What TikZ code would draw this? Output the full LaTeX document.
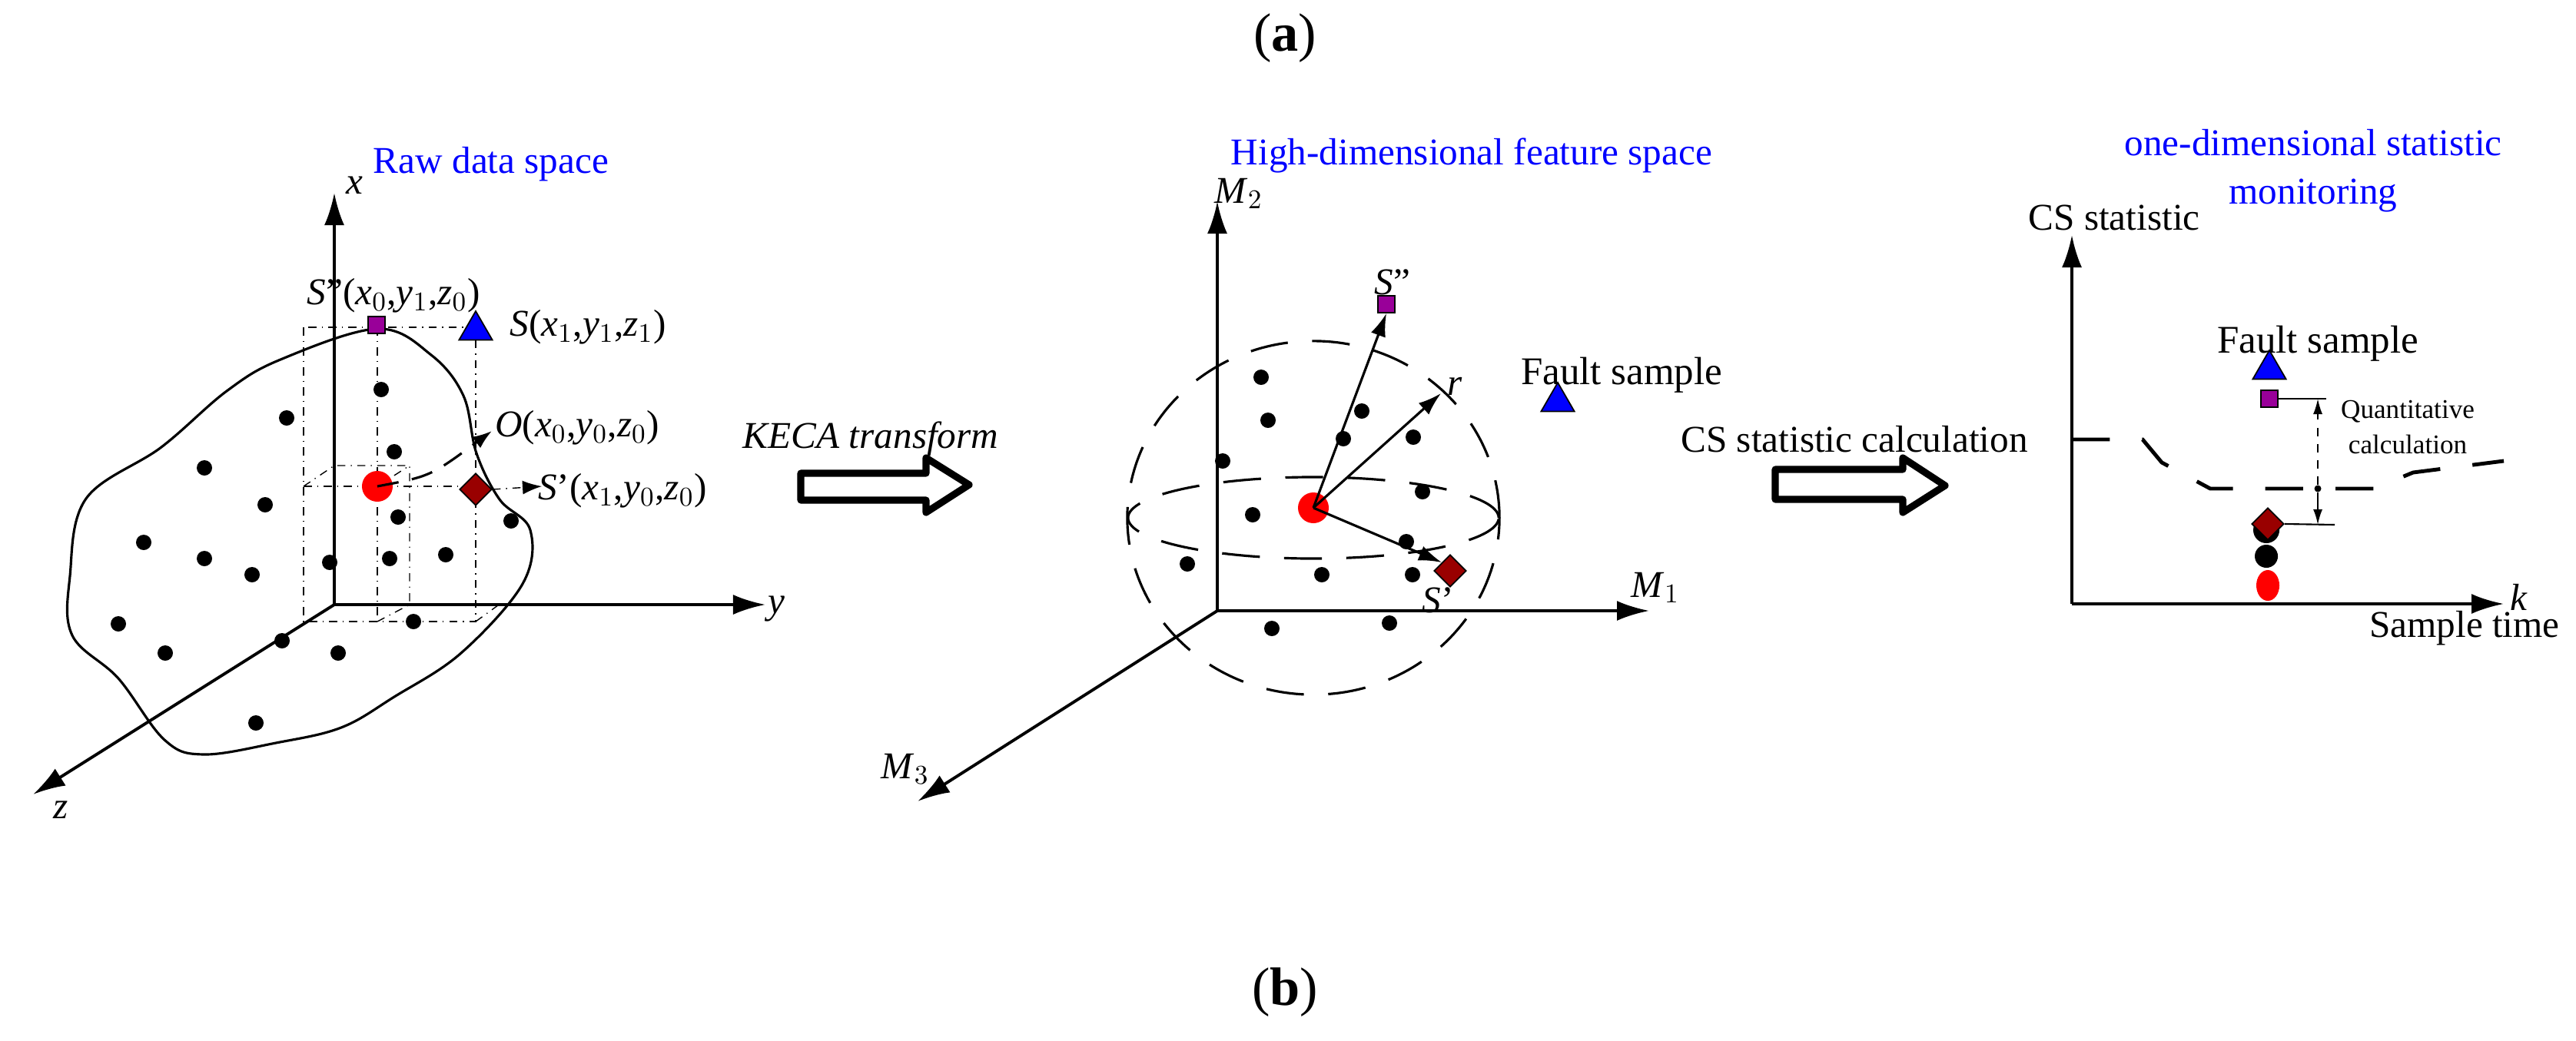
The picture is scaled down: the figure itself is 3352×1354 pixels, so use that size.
\documentclass[tikz,border=0pt]{standalone}
\usepackage{fontspec}
\setmainfont{Liberation Serif}
\usetikzlibrary{arrows.meta,shapes.geometric}
\definecolor{sqc}{HTML}{990099}
\definecolor{dmc}{HTML}{990000}
\begin{document}
\begin{tikzpicture}[x=0.01cm,y=-0.01cm,
  lbl/.style={font=\fontsize{14}{16}\selectfont,inner sep=0pt},
  big/.style={font=\fontsize{14.5}{17}\selectfont,inner sep=0pt},
  ttl/.style={lbl,text=blue},
  axis/.style={line width=1.1pt,-{Latex[length=0.42cm,width=0.26cm]}},
  vec/.style={line width=0.9pt,-{Latex[length=0.3cm,width=0.2cm]}},
  dot/.style={circle,fill=black,inner sep=0pt,minimum size=0.2cm},
  reddot/.style={ellipse,fill=red,inner sep=0pt,minimum width=0.4cm,minimum height=0.4cm},
  sq/.style={rectangle,draw=black,fill=sqc,inner sep=0pt,minimum size=0.22cm,line width=0.5pt},
  dm/.style={diamond,draw=black,fill=dmc,inner sep=0pt,minimum size=0.42cm,line width=0.5pt},
  tri/.style={regular polygon,regular polygon sides=3,draw=black,fill=blue,inner sep=0pt,minimum size=0.5cm,line width=0.5pt},
  dd/.style={line width=0.4pt,dash dot},
  fat/.style={line width=2.6pt,line join=round}]
\useasboundingbox (0,0) rectangle (3352,1354);
\node[font=\fontsize{20}{24}\selectfont] (a) at (1672,50) {(\textbf{a})};
\node[font=\fontsize{20}{24}\selectfont] (b) at (1672,1292) {(\textbf{b})};
% ---------- left panel ----------
\coordinate (O1) at (435,787);
\coordinate (X1) at (435,251);
\coordinate (Y1) at (996,787);
\coordinate (Z1) at (43,1034);
\draw[line width=0.9pt] plot[smooth cycle,tension=0.6] coordinates {(491,428) (561,462) (603,515) (620,590) (650,650) (690,690) (680,760) (600,850) (513,907) (444,947) (359,967) (265,982) (214,963) (154,883) (94,827) (91,750) (112,649) (210,582) (295,509) (365,468)};
\draw[dd] (395,426) rectangle (619,809);
\draw[dd] (491,426) -- (491,809);
\draw[dd] (395,633) -- (619,633);
\draw[dd] (395,633) -- (435,606) -- (533,606) -- (533,787);
\draw[dd] (491,633) -- (533,606);
\draw[dd] (491,809) -- (533,787);
\draw[dd] (619,809) -- (652,785);
\draw[axis] (O1) -- (X1);
\draw[axis] (O1) -- (Y1);
\draw[axis] (O1) -- (Z1);
\foreach \p in {(496,507),(373,544),(513,588),(266,609),(345,657),(518,673),(665,678),(187,706),(266,727),(429,732),(507,727),(580,722),(328,748),(154,812),(538,809),(215,850),(367,834),(440,850),(333,941)}
  \node[dot] at \p {};
\node[reddot] (c1) at (491,633) {};
\node[sq] (s2a) at (490,423) {};
\node[tri] (t1) at (619,430) {};
\node[dm] (d1) at (619,637) {};
\coordinate (oe) at (640,561);
\coordinate (se) at (705,633);
\draw[line width=0.9pt,dash pattern=on 8pt off 5pt,-{Latex[length=0.25cm,width=0.18cm]}] (c1.center) .. controls (560,620) .. (oe);
\draw[dd,-{Latex[length=0.25cm,width=0.18cm]}] (d1.east) -- (se);
\node[ttl] (rt) at (639,214) {Raw data space};
\node[lbl] (xl) at (461,241) {\textit{x}};
\node[lbl] (yl) at (1010,792) {\textit{y}};
\node[lbl] (zl) at (79,1054) {\textit{z}};
\node[lbl] (l2) at (512,385) {\textit{S}''(\textit{x}$_0$,\textit{y}$_1$,\textit{z}$_0$)};
\node[lbl] (l0) at (765,426) {\textit{S}(\textit{x}$_1$,\textit{y}$_1$,\textit{z}$_1$)};
\node[lbl] (lo) at (751,557) {\textit{O}(\textit{x}$_0$,\textit{y}$_0$,\textit{z}$_0$)};
\node[lbl] (l1) at (810,639) {\textit{S}'(\textit{x}$_1$,\textit{y}$_0$,\textit{z}$_0$)};
% ---------- KECA arrow ----------
\node[lbl] (keca) at (1133,571) {\textit{KECA transform}};
\draw[fat] (1042,616) -- (1205,616) -- (1205,596) -- (1261,631) -- (1205,667) -- (1205,651) -- (1042,651) -- cycle;
% ---------- middle panel ----------
\coordinate (O2) at (1584,795);
\coordinate (M2) at (1584,262);
\coordinate (M1) at (2146,795);
\coordinate (M3) at (1194,1043);
\draw[line width=0.9pt,dash pattern=on 14pt off 9pt] (1709,674) ellipse [x radius=2.42cm,y radius=2.3cm];
\draw[line width=0.9pt,dash pattern=on 14pt off 9pt] (1709,674) ellipse [x radius=2.41cm,y radius=0.53cm];
\draw[axis] (O2) -- (M2);
\draw[axis] (O2) -- (M1);
\draw[axis] (O2) -- (M3);
\foreach \p in {(1641,491),(1650,547),(1772,535),(1748,571),(1839,569),(1591,600),(1851,640),(1630,670),(1830,705),(1545,734),(1720,748),(1838,748),(1655,818),(1808,811)}
  \node[dot] at \p {};
\node[reddot] (c2) at (1709,661) {};
\node[sq] (s2b) at (1804,396) {};
\node[dm] (d2) at (1887,743) {};
\node[tri] (t2) at (2027,523) {};
\coordinate (re) at (1875,512);
\draw[vec] (c2.center) -- (s2b.south);
\draw[vec] (c2.center) -- (re);
\draw[vec] (c2.center) -- (d2.north west);
\node[ttl] (ht) at (1915,202) {High-dimensional feature space};
\node[lbl] (m2l) at (1612,252) {\textit{M}$_2$};
\node[lbl] (m1l) at (2154,765) {\textit{M}$_1$};
\node[lbl] (m3l) at (1178,1001) {\textit{M}$_3$};
\node[lbl] (s2l) at (1812,367) {\textit{S}''};
\node[lbl] (s1l) at (1871,781) {\textit{S}'};
\node[lbl] (rl) at (1893,503) {\textit{r}};
\node[big] (fs2) at (2110,488) {Fault sample};
% ---------- CS arrow ----------
\node[lbl] (csc) at (2413,572) {CS statistic calculation};
\draw[fat] (2310,611) -- (2476,611) -- (2476,596) -- (2531,632) -- (2476,667) -- (2476,650) -- (2310,650) -- cycle;
% ---------- right panel ----------
\coordinate (O3) at (2696,786);
\coordinate (Yt) at (2696,306);
\coordinate (Xt) at (3258,786);
\draw[axis] (O3) -- (Yt);
\draw[axis] (O3) -- (Xt);
\draw[line width=1.4pt,dash pattern=on 14pt off 12pt] (2696,572) -- (2788,572) -- (2813,602) -- (2876,636) -- (3089,636) -- (3140,615) -- (3258,600);
\node[ttl,align=center] (ot) at (3010,222) {one-dimensional statistic\\[2pt]monitoring};
\node[lbl] (csl) at (2751,283) {CS statistic};
\node[lbl] (stl) at (3207,818) {Sample time};
\node[lbl] (kl) at (3278,777) {\textit{k}};
\node[big] (fs3) at (3016,447) {Fault sample};
\node[tri] (t3) at (2953,481) {};
\node[sq] (s3) at (2953,519) {};
\node[dot,minimum width=0.22cm,minimum height=0.34cm] (e1) at (2949,690) {};
\node[dot,minimum width=0.22cm,minimum height=0.3cm] (e2) at (2949,724) {};
\node[dm] (d3) at (2951,682) {};
\node[reddot,minimum width=0.3cm,minimum height=0.4cm] (c3) at (2951,762) {};
\coordinate (m1) at (3027,519);
\coordinate (m2) at (3038,683);
\coordinate (mt) at (3016,519);
\coordinate (mb) at (3016,683);
\node[circle,fill=black,inner sep=0pt,minimum size=0.09cm] (md) at (3016,636) {};
\draw[line width=0.6pt] (s3.east) -- (m1);
\draw[line width=0.6pt] (d3.east) -- (m2);
\draw[line width=0.5pt,dashed,-{Latex[length=0.2cm,width=0.12cm]}] (md) -- (mt);
\draw[line width=0.6pt,-{Latex[length=0.2cm,width=0.12cm]}] (md) -- (mb);
\node[font=\fontsize{10}{12}\selectfont,inner sep=0pt] (q1) at (3133,536) {Quantitative};
\node[font=\fontsize{10}{12}\selectfont,inner sep=0pt] (q2) at (3133,578) {calculation};
\end{tikzpicture}
\end{document}
